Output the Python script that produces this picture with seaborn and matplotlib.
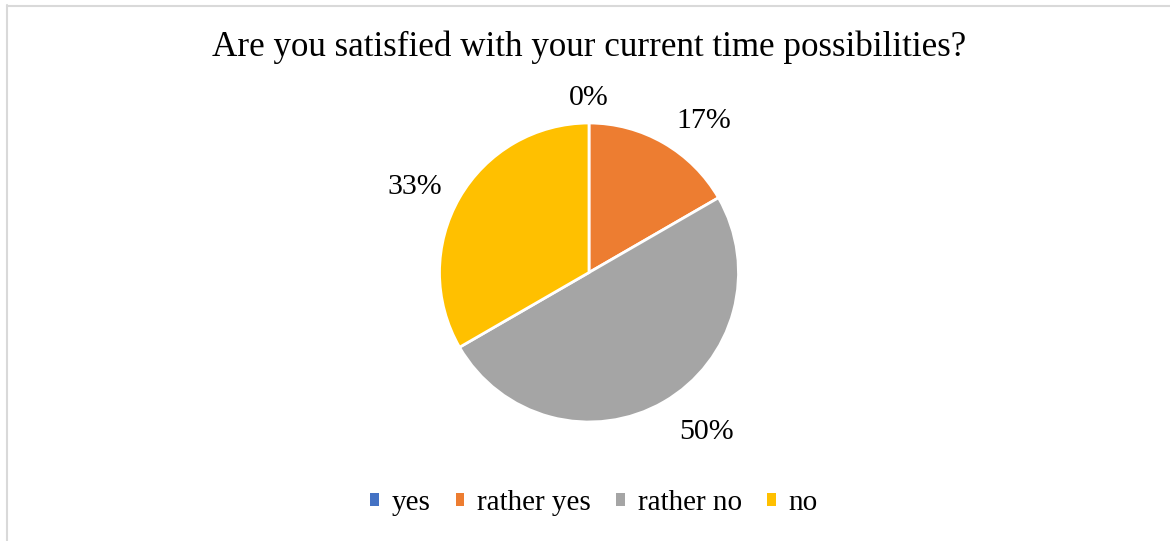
import matplotlib
matplotlib.use("Agg")
import matplotlib.pyplot as plt
from matplotlib.patches import Patch
from matplotlib.lines import Line2D
import seaborn as sns

# Survey answers
categories = ["yes", "rather yes", "rather no", "no"]
counts = [0, 1, 3, 2]
title = "Are you satisfied with your current time possibilities?"

sns.set_theme(style="white")
plt.rcParams["font.family"] = ["Liberation Serif", "DejaVu Serif"]
plt.rcParams["text.color"] = "black"
plt.rcParams["legend.labelcolor"] = "black"

palette = sns.color_palette(["#4472C4", "#ED7D31", "#A5A5A5", "#FFC000"])

W, H = 1170, 541
fig = plt.figure(figsize=(W / 100, H / 100), dpi=100)
fig.patch.set_facecolor("white")

# pie axes: square region in pixels, centred on the chart area
cx, cy, r = 589, 272.5, 149.5
ax = fig.add_axes([(cx - r) / W, (H - cy - r) / H, 2 * r / W, 2 * r / H])
wedges, _ = ax.pie(
    counts,
    colors=palette,
    startangle=90,
    counterclock=False,
    wedgeprops=dict(edgecolor="white", linewidth=2),
)
ax.set_xlim(-1, 1)
ax.set_ylim(-1, 1)
ax.axis("off")

# percentage labels, placed outside the slices
total = sum(counts)
label_pos = [(0.0, 1.165), (0.77, 1.015), (0.785, -1.07), (-1.165, 0.57)]
for c, (lx, ly) in zip(counts, label_pos):
    ax.text(lx, ly, f"{100 * c / total:.0f}%", ha="center", va="center",
            fontsize=21.5, color="black", clip_on=False)

fig.text(cx / W, 1 - 47 / H, title, ha="center", va="center",
         fontsize=25.2, color="black")

handles = [Patch(facecolor=col, edgecolor="none") for col in palette]
fig.legend(handles, categories, loc="center", bbox_to_anchor=(0.5 + 9 / W, 1 - 503 / H),
           ncol=4, frameon=False, fontsize=21, handlelength=0.3, handleheight=0.3,
           handletextpad=0.45, columnspacing=0.85, borderaxespad=0)

# thin chart-area border (left and top edges)
border = "#D9D9D9"
fig.add_artist(Line2D([6.5 / W, 6.5 / W], [0, 1 - 5 / H], color=border, lw=1.5,
                      transform=fig.transFigure))
fig.add_artist(Line2D([6.5 / W, 1], [1 - 5.5 / H, 1 - 5.5 / H], color=border, lw=1.5,
                      transform=fig.transFigure))

fig.savefig("out.png", dpi=100, facecolor="white")
